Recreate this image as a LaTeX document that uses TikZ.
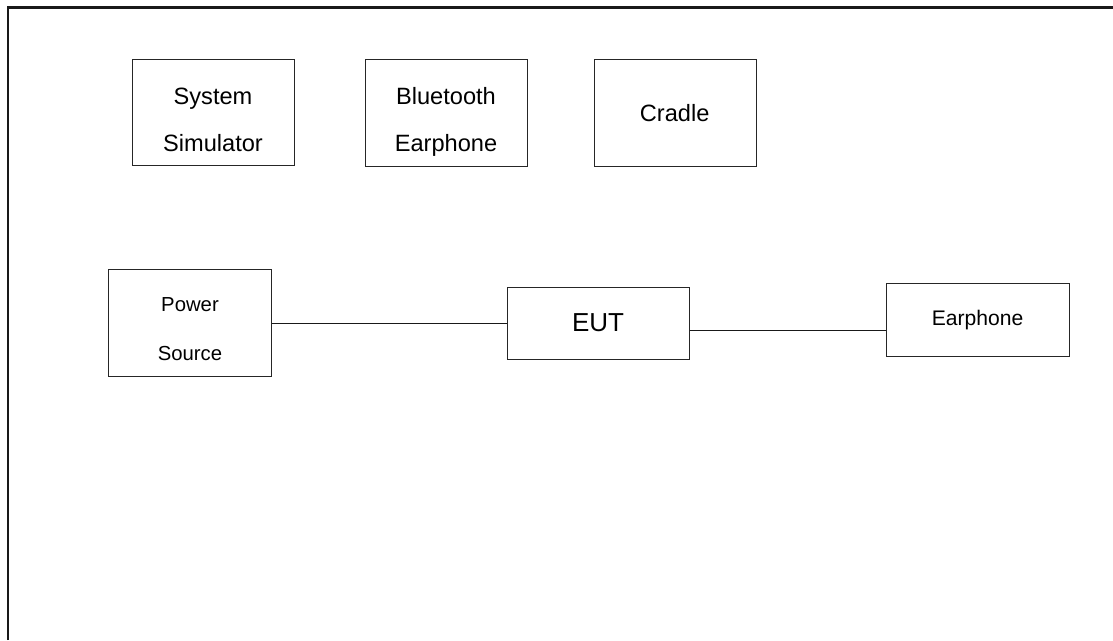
\documentclass[tikz,border=0pt]{standalone}
\usepackage{fontspec}
\setmainfont{Liberation Sans}
\begin{document}
\begin{tikzpicture}[x=1pt,y=-1pt,
  box/.style={draw=black!85,line width=1.3pt,inner sep=0pt,anchor=north west},
  lbl/.style={anchor=base,inner sep=0pt,font=\fontsize{23.6}{28}\selectfont},
  wire/.style={draw=black!90,line width=1.6pt}]
\useasboundingbox (0,0) rectangle (1113,640);
\fill[white] (0,0) rectangle (1113,640);
% frame (top and left edges)
\draw[line width=2.6pt,draw=black!90] (8,640) -- (8,7.3) -- (1113,7.3);
% boxes
\node[box,minimum width=162pt,minimum height=106pt] (sim) at (132,59) {};
\node[box,minimum width=162pt,minimum height=107pt] (bt) at (365,59) {};
\node[box,minimum width=162.5pt,minimum height=107pt] (cradle) at (593.5,59) {};
\node[box,minimum width=163pt,minimum height=107pt] (power) at (108,269) {};
\node[box,minimum width=182pt,minimum height=72pt] (eut) at (507,287) {};
\node[box,minimum width=183pt,minimum height=73pt] (earph) at (886,283) {};
% labels
\node[lbl] (simA) at (213,104) {System};
\node[lbl] (simB) at (213,151.7) {Simulator};
\node[lbl] (btA) at (446,104.3) {Bluetooth};
\node[lbl] (btB) at (446,151) {Earphone};
\node[lbl] (crT) at (674.7,121.7) {Cradle};
\node[lbl,font=\fontsize{20.3}{24}\selectfont] (pwA) at (190,311.7) {Power};
\node[lbl,font=\fontsize{20.3}{24}\selectfont] (pwB) at (190,360) {Source};
\node[lbl,font=\fontsize{26}{30}\selectfont] (eutT) at (598,331) {EUT};
\node[lbl,font=\fontsize{21.1}{25}\selectfont] (earT) at (977.5,325) {Earphone};
% connectors
\draw[wire] ([yshift=-0.5pt]power.east) -- ([yshift=-0.5pt]power.east -| eut.west);
\draw[wire] ([yshift=-7pt]eut.east) -- ([yshift=-7pt]eut.east -| earph.west);
\end{tikzpicture}
\end{document}
